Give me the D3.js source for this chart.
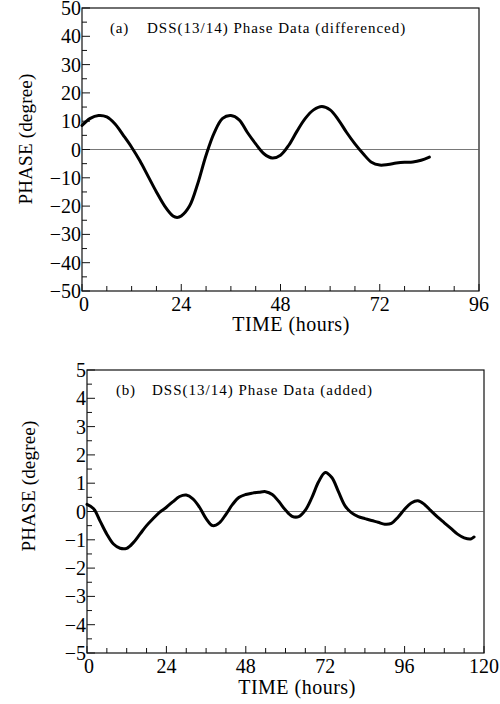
<!DOCTYPE html>
<html>
<head>
<meta charset="utf-8">
<script src="https://cdn.jsdelivr.net/npm/d3@7"></script>
<style>
  body { margin: 0; background: #fff; }
  svg { display: block; font-family: "Liberation Serif", "DejaVu Serif", serif; }
</style>
</head>
<body>
<div id="chart"></div>
<script>
// panel (a): differenced phase, hours vs degrees
const timeA = [0, 2, 4, 6, 8, 10, 12, 14, 16, 18, 20, 22, 23, 24, 26, 28, 30, 32, 34, 36, 38, 40, 42, 44, 46, 48,
  50, 52, 54, 56, 58, 60, 62, 64, 66, 68, 70, 72, 74, 76, 78, 80, 82, 84];
const phaseA = [8.5, 11, 12, 11.5, 9, 5, 0.8, -4, -9.5, -15, -20, -23.5, -24, -23.5, -20, -12, -2, 6, 11, 12, 10.5, 6, 2, -1.5, -3, -2,
  1.5, 6.5, 11, 14, 15.2, 14, 10.5, 6, 2, -1.5, -4.5, -5.5, -5.3, -4.8, -4.5, -4.4, -3.8, -2.7];

// panel (b): added phase
const timeB = [0, 2, 4, 6, 8, 10, 12, 14, 16, 18, 20, 22, 24, 26, 28, 30, 32, 34, 36, 38, 40, 42, 44, 46, 48,
  50, 52, 54, 56, 58, 60, 62, 64, 66, 68, 70, 72, 74, 76, 78, 80, 82, 84, 86, 88, 90, 92, 94, 96, 98,
  100, 102, 104, 106, 108, 110, 112, 114, 116, 117];
const phaseB = [0.25, 0.1, -0.35, -0.8, -1.15, -1.3, -1.3, -1.1, -0.8, -0.5, -0.25, -0.02, 0.15, 0.35, 0.53, 0.58, 0.45, 0.15, -0.25, -0.5, -0.4, -0.1, 0.25, 0.5, 0.6,
  0.65, 0.68, 0.7, 0.6, 0.35, 0.05, -0.17, -0.18, 0.05, 0.5, 1.05, 1.38, 1.2, 0.7, 0.2, -0.05, -0.18, -0.25, -0.32, -0.38, -0.45, -0.42, -0.2, 0.08, 0.3,
  0.38, 0.25, 0.02, -0.2, -0.4, -0.6, -0.8, -0.93, -0.97, -0.9];

const xTicksA = [0, 24, 48, 72, 96];
const yTicksA = [-50, -40, -30, -20, -10, 0, 10, 20, 30, 40, 50];
const xTicksB = [0, 24, 48, 72, 96, 120];
const yTicksB = [-5, -4, -3, -2, -1, 0, 1, 2, 3, 4, 5];

const width = 500, height = 704;

const svg = d3.select("#chart")
  .append("svg")
  .attr("width", width)
  .attr("height", height)
  .attr("viewBox", [0, 0, width, height]);

function panel(opt) {
  const x = d3.scaleLinear().domain([0, opt.xMax]).range([opt.left, opt.right]);
  const y = d3.scaleLinear().domain([-opt.yMax, opt.yMax]).range([opt.bottom, opt.top]);
  const g = svg.append("g");

  // frame
  g.append("rect")
    .attr("x", opt.left).attr("y", opt.top)
    .attr("width", opt.right - opt.left).attr("height", opt.bottom - opt.top)
    .attr("fill", "none").attr("stroke", "#111").attr("stroke-width", 1.2);

  // zero line
  g.append("line")
    .attr("x1", opt.left).attr("x2", opt.right)
    .attr("y1", y(0)).attr("y2", y(0))
    .attr("stroke", "#555").attr("stroke-width", 0.8);

  // x ticks, inward, every 6 hours
  const xMinor = d3.range(0, opt.xMax + 0.1, 6);
  g.selectAll(".xt").data(xMinor).join("line")
    .attr("x1", d => x(d)).attr("x2", d => x(d))
    .attr("y1", opt.bottom).attr("y2", d => opt.bottom - (d % 24 === 0 ? 7 : 5))
    .attr("stroke", "#111").attr("stroke-width", 1);

  // y ticks, inward, major + half steps
  const step = opt.yTicks[1] - opt.yTicks[0];
  const yMinor = d3.range(-opt.yMax, opt.yMax + step / 4, step / 2);
  g.selectAll(".yt").data(yMinor).join("line")
    .attr("x1", opt.left).attr("x2", (d, i) => opt.left + (i % 2 === 0 ? 8 : 5))
    .attr("y1", d => y(d)).attr("y2", d => y(d))
    .attr("stroke", "#111").attr("stroke-width", 1);

  const fmt = d3.format("d");

  g.selectAll(".yl").data(opt.yTicks).join("text")
    .attr("x", opt.left - 1)
    .attr("y", d => y(d))
    .attr("dy", "0.35em")
    .attr("text-anchor", "end")
    .attr("font-size", 20)
    .text(d => fmt(d));

  g.selectAll(".xl").data(opt.xTicks).join("text")
    .attr("x", d => x(d) + (d === 0 ? 2 : 0))
    .attr("y", opt.bottom + 19.5)
    .attr("text-anchor", "middle")
    .attr("font-size", 20)
    .text(d => fmt(d));

  g.append("text")
    .attr("x", opt.xLabelX)
    .attr("y", opt.xLabelY)
    .attr("text-anchor", "middle")
    .attr("font-size", 20)
    .attr("letter-spacing", 0.5)
    .text("TIME (hours)");

  g.append("text")
    .attr("transform", `translate(${opt.yLabelX},${opt.yLabelY}) rotate(-90)`)
    .attr("text-anchor", "middle")
    .attr("font-size", 19)
    .attr("letter-spacing", 0.2)
    .text("PHASE (degree)");

  g.append("text")
    .attr("x", opt.tagX)
    .attr("y", opt.titleY)
    .attr("font-size", 15)
    .attr("letter-spacing", 0.8)
    .text(opt.tag);
  g.append("text")
    .attr("x", opt.titleX)
    .attr("y", opt.titleY)
    .attr("font-size", 15)
    .attr("letter-spacing", 1)
    .text(opt.title);

  const line = d3.line()
    .x(d => x(d[0]))
    .y(d => y(d[1]))
    .curve(d3.curveCatmullRom);

  g.append("path")
    .datum(d3.zip(opt.times, opt.values))
    .attr("d", line)
    .attr("fill", "none")
    .attr("stroke", "#000")
    .attr("stroke-width", 3)
    .attr("stroke-linecap", "round");
}

panel({
  left: 82, right: 479, top: 8, bottom: 291,
  xMax: 96, yMax: 50,
  xTicks: xTicksA, yTicks: yTicksA,
  times: timeA, values: phaseA,
  xLabelX: 291, xLabelY: 331,
  yLabelX: 32, yLabelY: 139,
  tagX: 110, titleX: 147, titleY: 33,
  tag: "(a)", title: "DSS(13/14) Phase Data (differenced)"
});

panel({
  left: 87, right: 484, top: 370, bottom: 653,
  xMax: 120, yMax: 5,
  xTicks: xTicksB, yTicks: yTicksB,
  times: timeB, values: phaseB,
  xLabelX: 297, xLabelY: 694,
  yLabelX: 35, yLabelY: 486,
  tagX: 116, titleX: 152, titleY: 395,
  tag: "(b)", title: "DSS(13/14) Phase Data (added)"
});
</script>
</body>
</html>
